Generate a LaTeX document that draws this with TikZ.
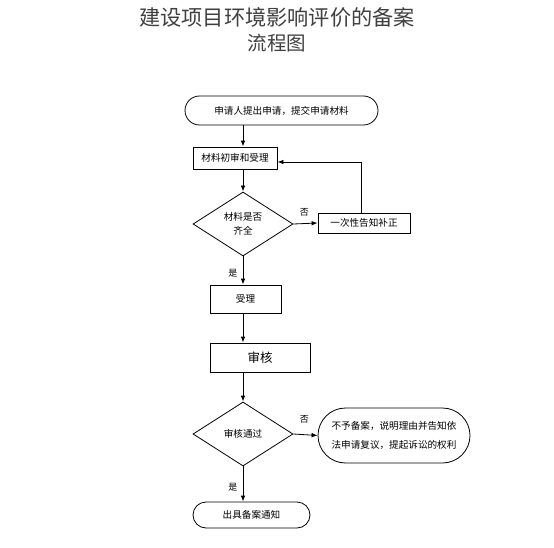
\documentclass[tikz,border=0pt]{standalone}
\usepackage{fontspec}
\setmainfont{Noto Sans CJK SC}
\usetikzlibrary{arrows.meta,shapes.geometric,shapes.misc}

\tikzset{
    box/.style={draw,line width=0.8pt,inner sep=0pt,font=\fontsize{9.6}{12}\selectfont},
    stadium/.style={box,rounded rectangle},
    choice/.style={box,diamond,aspect=1.56,minimum width=100pt,minimum height=64pt,align=center},
    arr/.style={-{Latex[length=6pt,width=4.5pt]},line width=0.8pt},
    lbl/.style={font=\fontsize{9}{10}\selectfont}
}

\begin{document}
\begin{tikzpicture}[x=1pt,y=-1pt]
    \useasboundingbox[fill=white] (0,0) rectangle (554,548);

    % title
    \node[text=black!75,font=\fontsize{21.2}{24}\selectfont] (title1) at (277,17) {建设项目环境影响评价的备案};
    \node[text=black!75,font=\fontsize{19.5}{22}\selectfont] (title2) at (277,43) {流程图};

    % steps
    \node[stadium,minimum width=193pt,minimum height=29pt] (apply) at (281.5,110.5) {申请人提出申请，提交申请材料};
    \node[box,minimum width=84pt,minimum height=22pt] (check) at (235,158) {材料初审和受理};
    \node[choice] (full) at (243,224) {材料是否\\[2pt]齐全};
    \node[box,minimum width=92pt,minimum height=20pt] (fix) at (364,223) {一次性告知补正};
    \node[box,minimum width=71pt,minimum height=28pt] (accept) at (245.5,299) {受理};
    \node[box,minimum width=100pt,minimum height=29pt,font=\fontsize{12.5}{14}\selectfont] (review) at (260,357.5) {审核};
    \node[choice] (pass) at (243,434) {审核通过};
    \node[stadium,minimum width=152pt,minimum height=55pt,align=center,font=\fontsize{9.6}{19}\selectfont] (reject) at (394,435.5) {不予备案，说明理由并告知依\\法申请复议，提起诉讼的权利};
    \node[stadium,minimum width=117pt,minimum height=26pt] (notice) at (251.5,515) {出具备案通知};

    % connectors
    \draw[arr] (apply.south -| full) -- (check.north -| full);
    \draw[arr] (check.south -| full) -- (full.north);
    \draw[arr] (full.east) -- node[lbl,above=4pt,pos=0.45] (no1) {否} (fix.west);
    \coordinate (back) at (361,162);
    \draw[arr] (fix.north -| back) |- (check.east |- back);
    \draw[arr] (full.south) -- node[lbl,left=2pt,pos=0.6] (yes1) {是} (accept.north -| full);
    \draw[arr] (accept.south -| full) -- (review.north -| full);
    \draw[arr] (review.south -| pass) -- (pass.north);
    \draw[arr] (pass.east) -- node[lbl,above=8pt,pos=0.45] (no2) {否} (reject.west);
    \draw[arr] (pass.south) -- node[lbl,left=2pt,pos=0.6] (yes2) {是} (notice.north -| pass);
\end{tikzpicture}
\end{document}
